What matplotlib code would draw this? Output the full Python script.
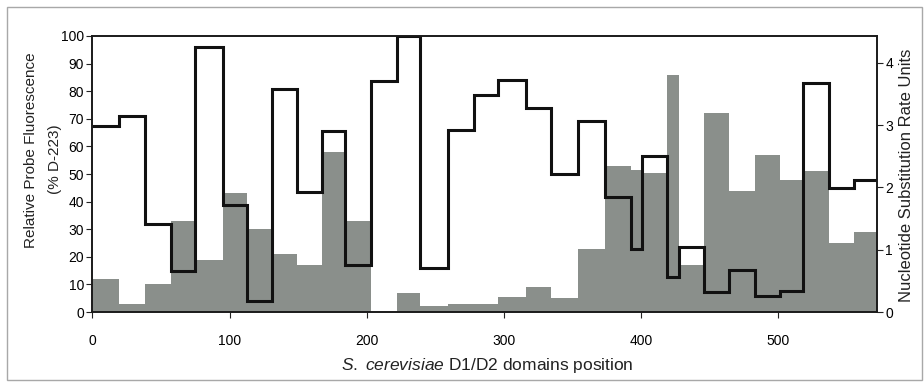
import matplotlib
matplotlib.use("Agg")
from matplotlib import pyplot as plt
from matplotlib.patches import Rectangle

plt.rcParams['font.family'] = ['Liberation Sans', 'DejaVu Sans']
plt.rcParams['mathtext.fontset'] = 'custom'
plt.rcParams['mathtext.rm'] = 'Liberation Sans'
plt.rcParams['mathtext.it'] = 'Liberation Sans:italic'

# bin edges along the D1/D2 region (nucleotide position)
edges = [0, 19, 38, 57, 75, 95, 113, 131, 149, 167, 184, 203, 222, 239, 259,
         278, 296, 316, 334, 354, 374, 393, 401, 419, 428, 446, 464, 483,
         501, 518, 537, 555, 572]

# relative probe fluorescence (% of D-223), grey histogram
fluorescence = [12, 3, 10, 33, 19, 43, 30, 21, 17, 58, 33, 0, 7, 2, 3, 3,
                5.5, 9, 5, 23, 53, 51.5, 50.5, 86, 17, 72, 44, 57, 48, 51,
                25, 29]

# nucleotide substitution rate, black step line
subst_rate = [2.98, 3.15, 1.42, 0.66, 4.25, 1.71, 0.18, 3.58, 1.93, 2.91,
              0.75, 3.70, 4.43, 0.71, 2.92, 3.48, 3.72, 3.27, 2.21, 3.06,
              1.85, 1.01, 2.51, 0.57, 1.04, 0.32, 0.67, 0.26, 0.33, 3.68,
              1.99, 2.12]

xticks = [0, 100, 200, 300, 400, 500]
yticks_left = list(range(0, 101, 10))
yticks_right = [0, 1, 2, 3, 4]

fig = plt.figure(figsize=(9.24, 3.82), dpi=100)
ax1 = fig.add_axes([0.1001, 0.1832, 0.8490, 0.7226])
ax2 = ax1.twinx()

ax1.stairs(fluorescence, edges, fill=True, color='#8a8f8b', linewidth=0)
ax2.stairs(subst_rate, edges, baseline=None, color='#111111', linewidth=2.2)

ax1.set_xlim(0, 572)
ax1.set_ylim(0, 100)
ax2.set_ylim(0, 4.43)

ax1.set_xticks(xticks)
ax1.set_yticks(yticks_left)
ax2.set_yticks(yticks_right)

ax1.tick_params(axis='x', direction='out', length=4, pad=12, labelsize=10, color='#222222')
ax1.tick_params(axis='y', direction='out', length=4, pad=2, labelsize=10, color='#222222')
ax2.tick_params(axis='y', direction='out', length=4, pad=2, labelsize=10, color='#222222')

for ax in (ax1, ax2):
    for s in ax.spines.values():
        s.set_color('#1a1a1a')
        s.set_linewidth(1.2)

fig.text(0.527, 0.042, r'$\it{S.\ cerevisiae}$ D1/D2 domains position',
         ha='center', va='center', fontsize=12.5, color='#222222')

fig.text(0.034, 0.607, 'Relative Probe Fluorescence', rotation=90,
         ha='center', va='center', fontsize=11, color='#222222')
fig.text(0.059, 0.584, '(% D-223)', rotation=90,
         ha='center', va='center', fontsize=11, color='#222222')
fig.text(0.981, 0.542, 'Nucleotide Substitution Rate Units', rotation=90,
         ha='center', va='center', fontsize=12, color='#222222')

# thin frame round the whole figure
fig.patches.append(Rectangle((7.5 / 924, 2 / 382), 914 / 924, 373 / 382,
                             transform=fig.transFigure, fill=False,
                             edgecolor='#a8a8a8', linewidth=1.0))

fig.savefig('out.png', dpi=100)
